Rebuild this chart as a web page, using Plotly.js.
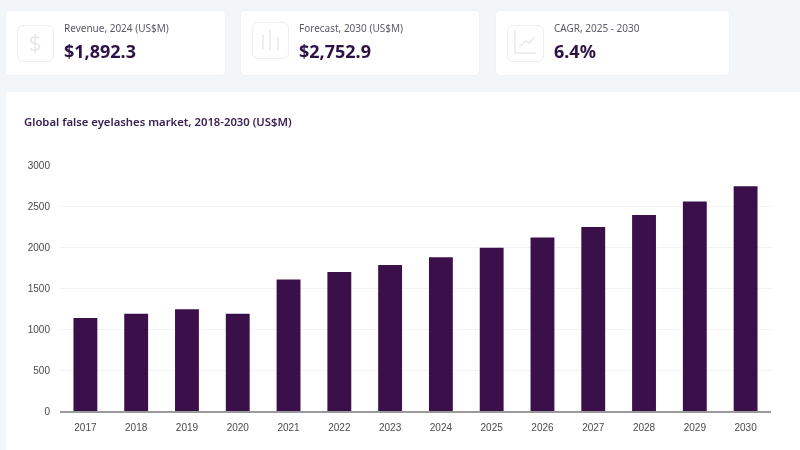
<!DOCTYPE html>
<html><head><meta charset="utf-8">
<script src="https://cdn.plot.ly/plotly-3.0.1.min.js"></script>
<style>
html,body{margin:0;padding:0;width:800px;height:450px;overflow:hidden;background:#f3f6f9;font-family:"Noto Sans","Open Sans",sans-serif}
.card{position:absolute;top:11px;height:64px;background:#fff;border-radius:4px;box-shadow:0 0 2px #e6e8ee}
.ico{position:absolute;width:37px;height:37px;border:1.5px solid #eeedf1;border-radius:6px;box-sizing:border-box}
.ico svg{position:absolute;left:0;top:0}
.lab{position:absolute;top:21px;font-size:10px;line-height:14px;color:#5b5a68;white-space:nowrap}
.val{position:absolute;top:39px;font-size:18px;line-height:24px;font-weight:700;color:#2c1245;white-space:nowrap}
#panel{position:absolute;left:6px;top:92px;width:794px;height:358px;background:#fff}
#chart{position:absolute;left:0;top:92px;width:800px;height:358px}
#all{position:absolute;left:0;top:0;width:800px;height:450px;filter:blur(0.35px)}
</style></head><body><div id="all">
<div class="card" style="left:6px;width:219px"></div>
<div class="ico" style="left:17px;top:25px"><svg width="34" height="34"><text x="17" y="26" text-anchor="middle" font-size="23" fill="#e9e8ec" font-family="Noto Sans">$</text></svg></div>
<div class="lab" style="left:64px" id="l0"></div><div class="val" style="left:64px" id="v0"></div>
<div class="card" style="left:241px;width:238px"></div>
<div class="ico" style="left:252px;top:22px"><svg width="34" height="34" stroke="#e9e8ec" stroke-width="1.5"><path d="M10 12V27M17 7V27M25 14V27"/></svg></div>
<div class="lab" style="left:299px" id="l1"></div><div class="val" style="left:299px" id="v1"></div>
<div class="card" style="left:496px;width:233px"></div>
<div class="ico" style="left:507px;top:25px"><svg width="34" height="34" fill="none" stroke="#ece8ee" stroke-width="1.5"><path d="M7 5V27H28M11 21L18 15L21 17L27 11"/></svg></div>
<div class="lab" style="left:554px" id="l2"></div><div class="val" style="left:554px" id="v2"></div>
<div id="panel"></div>
<div id="chart"></div>
</div>
<script>
const years=["2017","2018","2019","2020","2021","2022","2023","2024","2025","2026","2027","2028","2029","2030"];
const revenue=[1135,1185,1240,1185,1605,1695,1780,1875,1990,2115,2245,2390,2555,2740];
const cardLabels=["Revenue, 2024 (US$M)","Forecast, 2030 (US$M)","CAGR, 2025 - 2030"];
const cardValues=["$1,892.3","$2,752.9","6.4%"];
const chartTitle="Global false eyelashes market, 2018-2030 (US$M)";
cardLabels.forEach((t,i)=>{document.getElementById('l'+i).textContent=t;document.getElementById('v'+i).textContent=cardValues[i];});
Plotly.newPlot('chart',[{type:'bar',x:years,y:revenue,marker:{color:'#3a0f4a'},width:0.47,hoverinfo:'x+y'}],{
 width:800,height:358,paper_bgcolor:'rgba(0,0,0,0)',plot_bgcolor:'rgba(0,0,0,0)',
 margin:{l:60,r:29,t:73,b:39},showlegend:false,
 title:{text:chartTitle,x:24/800,xanchor:'left',y:1-30/358,yanchor:'middle',font:{family:'Noto Sans, Open Sans, sans-serif',size:11.3,color:'#3a2152',weight:600}},
 xaxis:{type:'category',tickfont:{family:'Liberation Sans, Arial',size:10,color:'#4a4a4a'},showgrid:false,showline:true,linecolor:'#9a9a9a',linewidth:1.5,ticks:'',ticklen:0,ticklabelstandoff:6,zeroline:false,fixedrange:true},
 yaxis:{range:[0,3000],tickvals:[0,500,1000,1500,2000,2500,3000],tickfont:{family:'Liberation Sans, Arial',size:10,color:'#4a4a4a'},gridcolor:'#f3f3f5',gridwidth:1,zeroline:false,showline:false,ticks:'',ticklabelstandoff:9,fixedrange:true}
},{displayModeBar:false,responsive:false});
</script></body></html>
